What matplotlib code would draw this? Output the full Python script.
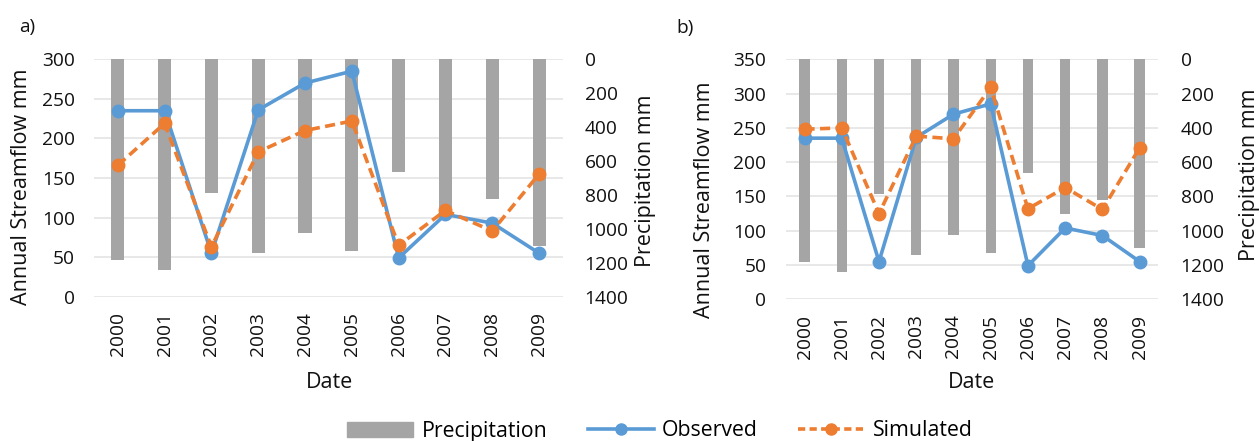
import matplotlib
matplotlib.use("Agg")
import matplotlib.pyplot as plt
import numpy as np
from matplotlib.patches import Patch
from matplotlib.lines import Line2D

plt.rcParams['font.family'] = ['Open Sans', 'DejaVu Sans']

years = ['2000', '2001', '2002', '2003', '2004', '2005', '2006', '2007', '2008', '2009']
precip = [1183, 1243, 787, 1143, 1027, 1131, 665, 900, 821, 1100]
observed = [235, 235, 55, 236, 270, 285, 49, 104, 93, 55]
simulated_a = [166, 219, 63, 183, 210, 222, 65, 109, 83, 155]
simulated_b = [248, 250, 125, 238, 234, 309, 132, 163, 131, 221]

BLUE = '#5b9bd5'
ORANGE = '#ed7d31'
GREY = '#a5a5a5'
GRID = '#e4e4e4'
TXT = '#111111'
TICK_FS = 13.8
TITLE_FS = 15.5

W, H = 1260, 441
fig = plt.figure(figsize=(W / 100, H / 100), dpi=100)


def rect(left, top, right, bottom):
    # pixel box -> figure fraction
    return [left / W, 1 - bottom / H, (right - left) / W, (bottom - top) / H]


def panel(box, sim, ymax, ystep):
    x = np.arange(len(years))

    # grid lives on its own axes so it sits behind the bars
    axg = fig.add_axes(box, zorder=0)
    axg.set_xlim(-0.5, len(years) - 0.5)
    axg.set_ylim(0, ymax)
    axg.set_yticks(np.arange(0, ymax + 1, ystep))
    axg.grid(axis='y', color=GRID, lw=1.2)
    axg.tick_params(length=0, labelleft=False, labelbottom=False)
    for s in axg.spines.values():
        s.set_visible(False)

    ax = fig.add_axes(box, zorder=2)
    ax.patch.set_visible(False)
    axp = ax.twinx()
    axp.set_zorder(1)
    axp.patch.set_visible(False)

    axp.bar(x, precip, width=0.28, color=GREY, zorder=1)
    axp.set_ylim(1400, 0)
    axp.set_yticks(np.arange(0, 1401, 200))
    axp.tick_params(length=0, pad=16, labelsize=TICK_FS, labelcolor=TXT)

    ax.plot(x, observed, '-o', color=BLUE, lw=2.6, ms=9, zorder=3)
    ax.plot(x, sim, '--o', color=ORANGE, lw=2.6, ms=9, dashes=(2.8, 1.5), zorder=4)
    ax.set_xlim(-0.5, len(years) - 0.5)
    ax.set_ylim(0, ymax)
    ax.set_yticks(np.arange(0, ymax + 1, ystep))
    ax.set_xticks(x)
    ax.set_xticklabels(years, rotation=90)
    ax.tick_params(length=0, labelsize=TICK_FS, labelcolor=TXT)
    ax.tick_params(axis='y', pad=14)
    ax.tick_params(axis='x', pad=11)
    for a in (ax, axp):
        for s in a.spines.values():
            s.set_visible(False)
    return ax


panel(rect(94.4, 59.3, 562.5, 296.7), simulated_a, 300, 50)
panel(rect(785.9, 59.3, 1158.3, 299.3), simulated_b, 350, 50)


def ftext(px, py, s, fs=TITLE_FS, **kw):
    fig.text(px / W, 1 - py / H, s, ha='center', va='center', color=TXT,
             fontsize=fs, **kw)


ftext(27, 27, 'a)', fs=TICK_FS)
ftext(685, 28, 'b)', fs=TICK_FS)
ftext(22, 187, 'Annual Streamflow mm', rotation=90)
ftext(645, 181, 'Precipitation mm', rotation=90)
ftext(704, 200, 'Annual Streamflow mm', rotation=90)
ftext(1250, 175, 'Precipitation mm', rotation=90)
ftext(329, 382, 'Date')
ftext(971, 382, 'Date')

handles = [
    Patch(color=GREY, label='Precipitation'),
    Line2D([], [], color=BLUE, lw=2.6, marker='o', ms=8, label='Observed'),
    Line2D([], [], color=ORANGE, lw=2.6, marker='o', ms=8, ls='--',
           dashes=(2.0, 1.2), label='Simulated'),
]
fig.legend(handles=handles, loc='center', bbox_to_anchor=(660 / W, 1 - 431 / H),
           ncol=3, frameon=False, fontsize=15.3, handlelength=3.1,
           handletextpad=0.4, columnspacing=1.9, borderaxespad=0, borderpad=0)

fig.savefig('out.png', dpi=100)
